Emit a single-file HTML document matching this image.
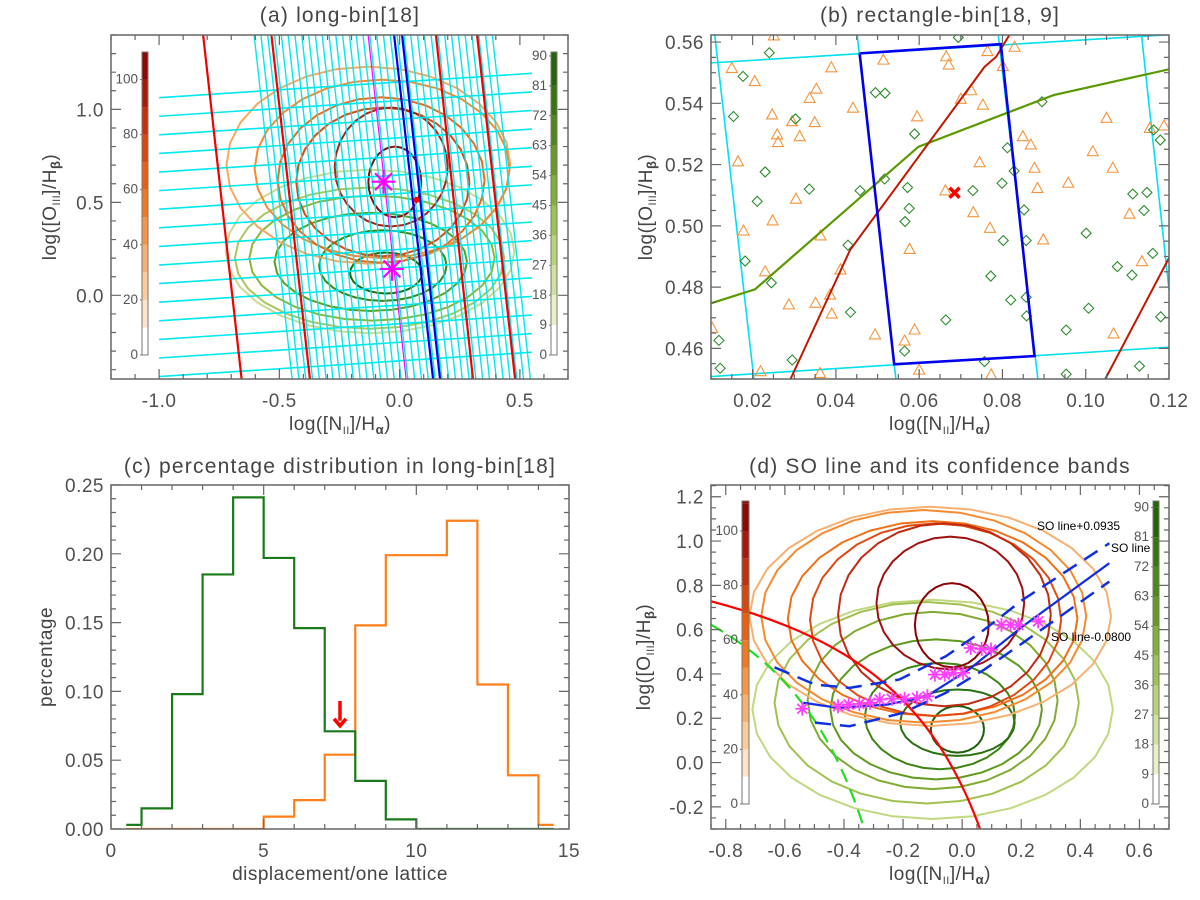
<!DOCTYPE html>
<html><head><meta charset="utf-8"><title>BPT binning figure</title>
<style>
html,body{margin:0;padding:0;background:#fff;}
svg{display:block;font-family:"Liberation Sans",sans-serif;}
.ttl{font-size:21px;fill:#444;letter-spacing:1.2px;}
.axt{font-size:19px;fill:#444;letter-spacing:0.5px;}
.tk{font-size:19px;fill:#505050;letter-spacing:0.5px;}
.cb{font-size:13.5px;fill:#555;}
</style></head>
<body>
<svg id="chart" xmlns="http://www.w3.org/2000/svg" width="1200" height="900" viewBox="0 0 1200 900">
<defs>
<clipPath id="clip-a"><rect x="111" y="35" width="457" height="344"/></clipPath>
<clipPath id="clip-b"><rect x="711" y="35" width="458" height="344"/></clipPath>
<clipPath id="clip-c"><rect x="111" y="485" width="458" height="344"/></clipPath>
<clipPath id="clip-d"><rect x="711" y="485" width="458" height="344"/></clipPath>
</defs>
<text class="ttl" x="340" y="22" text-anchor="middle">(a) long-bin[18]</text>
<text class="ttl" x="940" y="22" text-anchor="middle">(b) rectangle-bin[18, 9]</text>
<text class="ttl" x="340" y="473" text-anchor="middle">(c) percentage distribution in long-bin[18]</text>
<text class="ttl" x="940" y="473" text-anchor="middle">(d) SO line and its confidence bands</text>

<text class="axt" x="340" y="430" text-anchor="middle">log([N<tspan font-size="11" dy="4">II</tspan><tspan dy="-4">]/H</tspan><tspan font-size="13" dy="4" font-weight="bold">α</tspan><tspan dy="-4">)</tspan></text>
<text class="axt" x="940" y="430" text-anchor="middle">log([N<tspan font-size="11" dy="4">II</tspan><tspan dy="-4">]/H</tspan><tspan font-size="13" dy="4" font-weight="bold">α</tspan><tspan dy="-4">)</tspan></text>
<text class="axt" x="340" y="880" text-anchor="middle">displacement/one lattice</text>
<text class="axt" x="940" y="880" text-anchor="middle">log([N<tspan font-size="11" dy="4">II</tspan><tspan dy="-4">]/H</tspan><tspan font-size="13" dy="4" font-weight="bold">α</tspan><tspan dy="-4">)</tspan></text>

<text class="axt" transform="translate(56,207) rotate(-90)" text-anchor="middle">log([O<tspan font-size="11" dy="4">III</tspan><tspan dy="-4">]/H</tspan><tspan font-size="13" dy="4" font-weight="bold">β</tspan><tspan dy="-4">)</tspan></text>
<text class="axt" transform="translate(652,207) rotate(-90)" text-anchor="middle">log([O<tspan font-size="11" dy="4">III</tspan><tspan dy="-4">]/H</tspan><tspan font-size="13" dy="4" font-weight="bold">β</tspan><tspan dy="-4">)</tspan></text>
<text class="axt" transform="translate(52,657) rotate(-90)" text-anchor="middle">percentage</text>
<text class="axt" transform="translate(650,657) rotate(-90)" text-anchor="middle">log([O<tspan font-size="11" dy="4">III</tspan><tspan dy="-4">]/H</tspan><tspan font-size="13" dy="4" font-weight="bold">β</tspan><tspan dy="-4">)</tspan></text>

<g id="plot-a" clip-path="url(#clip-a)"></g>
<g id="plot-b" clip-path="url(#clip-b)"></g>
<g id="plot-c" clip-path="url(#clip-c)"></g>
<g id="plot-d" clip-path="url(#clip-d)"></g>
<g id="axes"></g>

<text x="1037" y="530" font-size="12" fill="#000">SO line+0.0935</text>
<text x="1111" y="552" font-size="12" fill="#000">SO line</text>
<text x="1051" y="641" font-size="12" fill="#000">SO line-0.0800</text>
</svg>
<script>
// ---------- data ----------
const histEdges = [0.5,1,2,3,4,5,6,7,8,9,10,11,12,13,14,14.5];
const greenHist = [0.003,0.015,0.098,0.185,0.241,0.197,0.146,0.071,0.035,0.007,0,0,0,0,0];
const orangeHist = [0,0,0,0,0,0.009,0.021,0.054,0.148,0.199,0.199,0.224,0.105,0.039,0.003];
const arrowX = 7.5, arrowTop = 0.093, arrowBottom = 0.075;
const triX = [0.0251,0.0150,0.0205,0.0389,0.0514,0.0665,0.0671,0.0764,0.0801,0.0829,0.0353,0.0337,0.0247,0.0441,0.0595,0.0700,0.0725,0.0753,0.0295,0.0349,0.0259,0.0261,0.0313,0.0165,0.0304,0.0248,0.0178,0.0363,0.0577,0.0877,0.0884,0.0868,0.0849,0.0770,0.0730,0.0745,0.0958,0.0898,0.1017,0.1050,0.1065,0.1105,0.1135,0.1188,0.1154,0.1067,0.0773,0.0600,0.0494,0.0589,0.0565,0.0362,0.0219,0.0103,0.0287,0.0351,0.0386,0.0390,0.0411,0.0230,0.0663];
const triY = [0.5620,0.5514,0.5471,0.5516,0.5541,0.5552,0.5525,0.5569,0.5520,0.5583,0.5446,0.5416,0.5362,0.5384,0.5356,0.5413,0.5441,0.5394,0.5340,0.5337,0.5297,0.5272,0.5291,0.5209,0.5087,0.5016,0.4983,0.4967,0.4923,0.5188,0.5122,0.5264,0.5291,0.4992,0.5043,0.5206,0.5139,0.4954,0.5242,0.5351,0.5188,0.5038,0.4883,0.5326,0.5318,0.4647,0.4513,0.4529,0.4644,0.4660,0.4624,0.4518,0.4524,0.4665,0.4742,0.4747,0.4774,0.4712,0.4856,0.4850,0.5114];
const diaX = [0.0240,0.0177,0.0694,0.0495,0.0518,0.0154,0.0303,0.0589,0.0812,0.0895,0.0828,0.0799,0.0729,0.0572,0.0517,0.0458,0.0336,0.0230,0.0211,0.0576,0.0566,0.0852,0.0802,0.1001,0.0857,0.0429,0.0182,0.0245,0.0772,0.0820,0.0857,0.0858,0.0664,0.0435,0.0953,0.1007,0.1076,0.1113,0.1147,0.1140,0.1161,0.1111,0.1180,0.1129,0.0953,0.0757,0.0565,0.0295,0.0119,0.0122,0.1163,0.1179];
const diaY = [0.5565,0.5488,0.5615,0.5435,0.5433,0.5357,0.5349,0.5300,0.5255,0.5405,0.5179,0.5139,0.5115,0.5125,0.5153,0.5115,0.5120,0.5176,0.5080,0.5057,0.5014,0.5052,0.4952,0.4976,0.4952,0.4937,0.4885,0.4814,0.4836,0.4758,0.4767,0.4706,0.4693,0.4718,0.4660,0.4731,0.4867,0.5104,0.5109,0.5050,0.4910,0.4839,0.4703,0.4542,0.4516,0.4557,0.4591,0.4562,0.4626,0.4535,0.5313,0.5280];
const blueBinX = [0.0457,0.0796,0.0877,0.0540];
const blueBinY = [0.5563,0.5593,0.4575,0.4548];
const redLineBX = [0.0291,0.0434,0.0757,0.0785,0.0817];
const redLineBY = [0.45,0.4921,0.5519,0.5552,0.5624];
const redLine2BX = [0.1047,0.12];
const redLine2BY = [0.45,0.4895];
const greenLineBX = [0.01,0.0206,0.0598,0.0923,0.12];
const greenLineBY = [0.4747,0.4793,0.5258,0.5427,0.5511];
const cyanBX1 = [0.01,0.12,0.01,0.12,0.0109,0.0203,0.0451,0.0544,0.0790,0.0885,0.1134,0.1200];
const cyanBY1 = [0.5532,0.5624,0.4508,0.4604,0.5623,0.45,0.5623,0.45,0.5623,0.45,0.5623,0.479];
const centerB = [0.0685, 0.5108];
const redBinTopA = [-0.817,-0.533,0.151,0.322];
const redBinBotA = [-0.657,-0.373,0.305,0.480];
const blueBinTopA = [-0.023,0.010];
const blueBinBotA = [0.139,0.168];
const magentaTopA = -0.131, magentaBotA = 0.027;
const starAX = [-0.067,-0.032];
const starAY = [0.611,0.142];
const centerA = [0.070,0.513];
const redContA = [[-0.13,0.70,0.59,0.53],[-0.073,0.68,0.53,0.48],[-0.077,0.62,0.43,0.445],[-0.07,0.61,0.36,0.40],[-0.035,0.69,0.235,0.32],[-0.02,0.61,0.11,0.19]];
const greenContA = [[-0.123,0.236,0.60,0.44],[-0.125,0.20,0.56,0.38],[-0.115,0.20,0.51,0.336],[-0.12,0.18,0.40,0.264],[-0.07,0.16,0.265,0.19],[-0.056,0.12,0.15,0.11]];
const redContD = [[-0.108,0.66,0.612,0.495],[-0.13,0.66,0.55,0.48],[-0.10,0.65,0.49,0.44],[-0.09,0.645,0.425,0.435],[-0.06,0.667,0.36,0.413],[-0.04,0.72,0.25,0.30],[-0.035,0.62,0.125,0.19]];
const greenContD = [[-0.10,0.24,0.61,0.495],[-0.12,0.27,0.515,0.455],[-0.10,0.28,0.423,0.40],[-0.088,0.24,0.358,0.316],[-0.075,0.21,0.254,0.24],[-0.016,0.18,0.194,0.15],[-0.016,0.15,0.09,0.105]];
const starDX = [-0.541,-0.420,-0.384,-0.348,-0.312,-0.279,-0.238,-0.195,-0.153,-0.118,-0.092,-0.059,-0.029,0.003,0.029,0.066,0.098,0.133,0.164,0.190,0.257];
const starDY = [0.243,0.254,0.262,0.265,0.270,0.285,0.288,0.288,0.292,0.299,0.397,0.397,0.405,0.405,0.517,0.513,0.510,0.622,0.622,0.622,0.637];
const soX = [-0.537,-0.420,-0.251,-0.121,0.023,0.205,0.498];
const soY = [0.270,0.247,0.262,0.299,0.420,0.615,0.900];
const soUpX = [-0.635,-0.498,-0.381,-0.212,-0.055,0.075,0.205,0.498];
const soUpY = [0.430,0.352,0.337,0.375,0.480,0.600,0.735,0.990];
const soLoX = [-0.498,-0.381,-0.199,-0.055,0.075,0.205,0.498];
const soLoY = [0.180,0.164,0.225,0.315,0.420,0.540,0.817];
const kewley = [0.61,0.47,1.19];
const kauffmann = [0.61,0.05,1.3];
const redScale = ['#ffffff','#fde3c8','#fbcb9a','#f8b070','#f59545','#f07a20','#e86010','#d84808','#c43008','#a81a08','#8b0a05'];
const greenScale = ['#ffffff','#e8f0c8','#d0e2a0','#b8d478','#9cc455','#80b038','#669a22','#4e8815','#38750c','#256506'];
const redLabels = [0,20,40,60,80,100];
const greenLabels = [0,9,18,27,36,45,54,63,72,81,90];
const redContColA = ['#f8a860','#f58a30','#ee6a1a','#d84a10','#b02010','#8b0a05'];
const greenContColA = ['#c8dc90','#a8c860','#88b838','#5f9e1e','#3c8512','#226a08'];
const redContColD = ['#f8b070','#f58a30','#f07018','#e04a10','#c02a10','#a01010','#8b0000'];
const greenContColD = ['#c0d880','#a0c050','#80aa30','#5f9a1e','#3f8512','#2a7010','#1a600a'];

// ---------- helpers ----------
const NS='http://www.w3.org/2000/svg';
function mk(tag, attrs, parent){const e=document.createElementNS(NS,tag);for(const k in attrs)e.setAttribute(k,attrs[k]);parent.appendChild(e);return e;}
const P={
 a:{x:111,y:35,w:457,h:344,xr:[-1.2,0.7],yr:[-0.45,1.4]},
 b:{x:711,y:35,w:458,h:344,xr:[0.01,0.12],yr:[0.45,0.5623]},
 c:{x:111,y:485,w:458,h:344,xr:[0,15],yr:[0,0.25]},
 d:{x:711,y:485,w:458,h:344,xr:[-0.85,0.7],yr:[-0.3,1.253]}
};
function SX(k){const p=P[k];return v=>p.x+(v-p.xr[0])/(p.xr[1]-p.xr[0])*p.w;}
function SY(k){const p=P[k];return v=>p.y+p.h-(v-p.yr[0])/(p.yr[1]-p.yr[0])*p.h;}
const AX=document.getElementById('axes');

function drawAxes(k,xmaj,xmin,xdec,ymaj,ymin,ydec){
 const p=P[k],sx=SX(k),sy=SY(k);
 let e=mk('rect',{x:p.x,y:p.y,width:p.w,height:p.h,fill:'none',stroke:'#666','stroke-width':1.5},AX);
 
 
 let d='';
 for(let i=Math.ceil(p.xr[0]/xmin-1e-6);i*xmin<=p.xr[1]+1e-9;i++){const X=sx(i*xmin);d+=`M${X} ${p.y+p.h}v-5M${X} ${p.y}v5`;}
 for(let i=Math.ceil(p.yr[0]/ymin-1e-6);i*ymin<=p.yr[1]+1e-9;i++){const Y=sy(i*ymin);d+=`M${p.x} ${Y}h5M${p.x+p.w} ${Y}h-5`;}
 xmaj.forEach(v=>{const X=sx(v);d+=`M${X} ${p.y+p.h}v-10M${X} ${p.y}v10`;});
 ymaj.forEach(v=>{const Y=sy(v);d+=`M${p.x} ${Y}h10M${p.x+p.w} ${Y}h-10`;});
 e=mk('path',{d:d,stroke:'#666','stroke-width':1.2,fill:'none'},AX);
 
 
 xmaj.forEach(v=>{const t=mk('text',{x:sx(v),y:p.y+p.h+28,'text-anchor':'middle',class:'tk'},AX);t.textContent=(Math.abs(v)<1e-9?0:v).toFixed(xdec);
  
  });
 ymaj.forEach(v=>{const t=mk('text',{x:p.x-7,y:sy(v)+7,'text-anchor':'end',class:'tk'},AX);t.textContent=(Math.abs(v)<1e-9?0:v).toFixed(ydec);
  
  });
}
function poly(g,xs,ys,sx,sy,attrs,name){
 const pts=xs.map((x,i)=>sx(x)+','+sy(ys[i])).join(' ');
 const e=mk('polyline',Object.assign({points:pts,fill:'none'},attrs),g);
 
 
 return e;
}
function ellipseContour(g,c,sx,sy,col,w,name){
 const xs=[],ys=[];
 for(let i=0;i<=28;i++){const t=i/28*2*Math.PI;xs.push(c[0]+c[2]*Math.cos(t));ys.push(c[1]+c[3]*Math.sin(t));}
 return poly(g,xs,ys,sx,sy,{stroke:col,'stroke-width':w,'stroke-linejoin':'round'},name);
}
function star(g,x,y,r,col,w,name){
 let d='';for(let i=0;i<4;i++){const a=i*Math.PI/4;d+=`M${x-r*Math.cos(a)} ${y-r*Math.sin(a)}L${x+r*Math.cos(a)} ${y+r*Math.sin(a)}`;}
 const e=mk('path',{d:d,stroke:col,'stroke-width':w},g);
 
 
}
function colorbar(x,w,y0,y1,vmax,step,scale,labels,name){
 const py=v=>y1-v/vmax*(y1-y0);
 scale.forEach((c,i)=>{const lo=i*step,hi=Math.min(vmax,(i+1)*step);if(lo>=vmax)return;
  const e=mk('rect',{x:x,y:py(hi),width:w,height:py(lo)-py(hi),fill:c},AX);
  
  });
 if((scale.length)*step<vmax){const e=mk('rect',{x:x,y:y0,width:w,height:py(scale.length*step)-y0,fill:scale[scale.length-1]},AX);
  
  }
 const f=mk('rect',{x:x,y:y0,width:w,height:y1-y0,fill:'none',stroke:'#777','stroke-width':1},AX);
 
 
 labels.forEach(v=>{const t=mk('text',{x:x-4,y:py(v)+4,'text-anchor':'end',class:'cb'},AX);t.textContent=v;
  
  
  const tk=mk('line',{x1:x-2,x2:x,y1:py(v),y2:py(v),stroke:'#777'},AX);
  
  });
}

// ---------- panel a ----------
(function(){
 const g=document.getElementById('plot-a'),sx=SX('a'),sy=SY('a');
 greenContA.forEach((c,i)=>ellipseContour(g,c,sx,sy,greenContColA[i],2,'green-contour-a'));
 redContA.forEach((c,i)=>ellipseContour(g,c,sx,sy,redContColA[i],2,'red-contour-a'));
 for(let i=0;i<16;i++){poly(g,[-1.0,0.55],[1.063-0.1*i,1.194-0.1*i],sx,sy,{stroke:'#00e8f0','stroke-width':1.6},'cyan-grid-row-a');}
 for(let i=0;i<36;i++){const t=-0.605+i*0.0283;poly(g,[t,t+0.158],[1.4,-0.45],sx,sy,{stroke:'#00e8f0','stroke-width':1.4},'cyan-grid-col-a');}
 redBinTopA.forEach((t,i)=>poly(g,[t,redBinBotA[i]],[1.4,-0.45],sx,sy,{stroke:'#f00000','stroke-width':2.2},'red-bin-edge-a'));
 blueBinTopA.forEach((t,i)=>poly(g,[t,blueBinBotA[i]],[1.4,-0.45],sx,sy,{stroke:'#0000ee','stroke-width':2.2},'blue-bin-edge-a'));
 poly(g,[magentaTopA,magentaBotA],[1.4,-0.45],sx,sy,{stroke:'#ff00ff','stroke-width':1.2},'magenta-axis-line-a');
 starAX.forEach((x,i)=>star(g,sx(x),sy(starAY[i]),12,'#ff00ff',2.2,'center-star-a'));
 star(g,sx(centerA[0]),sy(centerA[1]),3,'#ff0000',2,'bin-center-a');
})();
drawAxes('a',[-1,-0.5,0,0.5],0.1,1,[0,0.5,1.0],0.1,1);
colorbar(142,6,52,355,110,10,redScale,redLabels,'red-colorbar-a');
colorbar(551,6,52,355,91.2,9,greenScale,greenLabels,'green-colorbar-a');

// ---------- panel b ----------
(function(){
 const g=document.getElementById('plot-b'),sx=SX('b'),sy=SY('b');
 for(let i=0;i<cyanBX1.length;i+=2){poly(g,[cyanBX1[i],cyanBX1[i+1]],[cyanBY1[i],cyanBY1[i+1]],sx,sy,{stroke:'#00e0f0','stroke-width':1.6},'cyan-bin-edge-b');}
 triX.forEach((x,i)=>{const X=sx(x),Y=sy(triY[i]);const e=mk('path',{d:`M${X} ${Y-6}L${X+5.5} ${Y+4}L${X-5.5} ${Y+4}Z`,fill:'none',stroke:'#f7943a','stroke-width':1.1},g);
  
  });
 diaX.forEach((x,i)=>{const X=sx(x),Y=sy(diaY[i]);const e=mk('path',{d:`M${X} ${Y-5}L${X+5} ${Y}L${X} ${Y+5}L${X-5} ${Y}Z`,fill:'none',stroke:'#2e8b2e','stroke-width':1.1},g);
  
  });
 poly(g,greenLineBX,greenLineBY,sx,sy,{stroke:'#5a9a00','stroke-width':2.2},'green-boundary-line-b');
 poly(g,redLineBX,redLineBY,sx,sy,{stroke:'#c01800','stroke-width':2},'red-bin-edge-b');
 poly(g,redLine2BX,redLine2BY,sx,sy,{stroke:'#c01800','stroke-width':2},'red-bin-edge-b2');
 poly(g,blueBinX.concat([blueBinX[0]]),blueBinY.concat([blueBinY[0]]),sx,sy,{stroke:'#0000ee','stroke-width':2.6},'blue-rectangle-bin-b');
 const X=sx(centerB[0]),Y=sy(centerB[1]);
 const e=mk('path',{d:`M${X-5} ${Y-5}L${X+5} ${Y+5}M${X+5} ${Y-5}L${X-5} ${Y+5}`,stroke:'#ff0000','stroke-width':3.5},g);
 
 
})();
drawAxes('b',[0.02,0.04,0.06,0.08,0.10,0.12],0.005,2,[0.46,0.48,0.50,0.52,0.54,0.56],0.005,2);

// ---------- panel c ----------
(function(){
 const g=document.getElementById('plot-c'),sx=SX('c'),sy=SY('c');
 function step(vals,col,name){let d=`M${sx(histEdges[0])} ${sy(vals[0])}`;
  vals.forEach((v,i)=>{if(i>0)d+=`V${sy(v)}`;d+=`H${sx(histEdges[i+1])}`;});
  const e=mk('path',{d:d,fill:'none',stroke:col,'stroke-width':2.2},g);
  
  }
 step(orangeHist,'#ff7f1a','orange-histogram');
 step(greenHist,'#1a7a1a','green-histogram');
 const X=sx(arrowX);
 const a=mk('path',{d:`M${X} ${sy(arrowTop)}V${sy(arrowBottom)-5}M${X-6} ${sy(arrowBottom)-7}L${X} ${sy(arrowBottom)}L${X+6} ${sy(arrowBottom)-7}`,stroke:'#ff0000','stroke-width':3.5,fill:'none'},g);
 
 
})();
drawAxes('c',[0,5,10,15],1,0,[0,0.05,0.10,0.15,0.20,0.25],0.01,2);

// ---------- panel d ----------
(function(){
 const g=document.getElementById('plot-d'),sx=SX('d'),sy=SY('d');
 greenContD.forEach((c,i)=>ellipseContour(g,c,sx,sy,greenContColD[i],2,'green-contour-d'));
 redContD.forEach((c,i)=>ellipseContour(g,c,sx,sy,redContColD[i],2,'red-contour-d'));
 function demarc(par,col,dash,name){const xs=[],ys=[];
  for(let x=-0.85;x<par[1]-0.02;x+=0.01){const y=par[0]/(x-par[1])+par[2];if(y<-0.35)break;xs.push(x);ys.push(y);}
  const e=poly(g,xs,ys,sx,sy,{stroke:col,'stroke-width':2.2},name);if(dash)e.setAttribute('stroke-dasharray',dash);}
 demarc(kewley,'#ff0000',null,'kewley-line');
 demarc(kauffmann,'#22dd22','14,8','kauffmann-line');
 poly(g,soUpX,soUpY,sx,sy,{stroke:'#1030e0','stroke-width':2.5,'stroke-dasharray':'16,9'},'so-upper-band');
 poly(g,soLoX,soLoY,sx,sy,{stroke:'#1030e0','stroke-width':2.5,'stroke-dasharray':'16,9'},'so-lower-band');
 poly(g,soX,soY,sx,sy,{stroke:'#1030e0','stroke-width':2.2},'so-line');
 starDX.forEach((x,i)=>star(g,sx(x),sy(starDY[i]),7,'#ff40ff',1.8,'bin-star-d'));
})();
drawAxes('d',[-0.8,-0.6,-0.4,-0.2,0,0.2,0.4,0.6],0.05,1,[-0.2,0,0.2,0.4,0.6,0.8,1.0,1.2],0.05,1);
colorbar(742,7,501,804,111,10,redScale,redLabels,'red-colorbar-d');
colorbar(1153,6,501,804,92,9,greenScale,greenLabels,'green-colorbar-d');
</script>
</body></html>
